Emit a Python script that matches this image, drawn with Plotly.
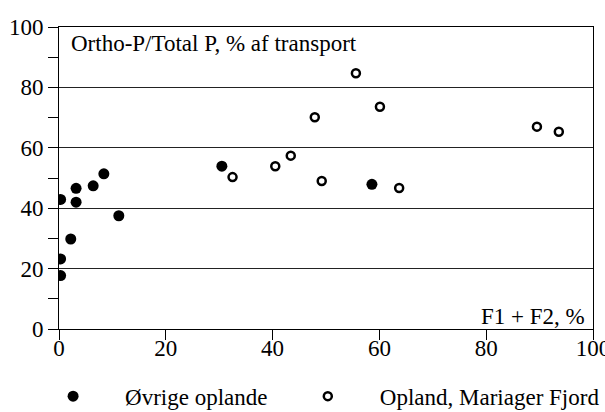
import plotly.graph_objects as go

# Øvrige oplande (filled)
x_ovrige = [0.3, 3.2, 6.4, 8.4, 3.2, 11.2, 2.2, 0.3, 0.3, 30.5, 58.6]
y_ovrige = [42.9, 46.6, 47.4, 51.4, 42.0, 37.5, 29.8, 23.2, 17.7, 53.9, 47.9]

# Opland, Mariager Fjord (open)
x_mariager = [32.5, 40.5, 43.4, 49.2, 63.7, 55.6, 60.1, 47.9, 89.5, 93.6]
y_mariager = [50.3, 53.9, 57.4, 49.0, 46.7, 84.7, 73.6, 70.1, 67.0, 65.3]

x_ticks = [0, 20, 40, 60, 80, 100]
y_ticks = [0, 20, 40, 60, 80, 100]

FONT = "Liberation Serif"
FS = 23

fig = go.Figure()
fig.add_trace(go.Scatter(
    x=x_ovrige, y=y_ovrige, mode="markers", name="Øvrige oplande", legend="legend",
    marker=dict(symbol="circle", size=11, color="black", line=dict(width=0)),
))
fig.add_trace(go.Scatter(
    x=x_mariager, y=y_mariager, mode="markers", name="Opland, Mariager Fjord", legend="legend2",
    marker=dict(symbol="circle-open", size=8, color="black", line=dict(width=2.5, color="black")),
))

leg_common = dict(
    orientation="h", xanchor="left", y=-0.2225, yanchor="middle",
    font=dict(family=FONT, size=FS, color="black"),
    itemwidth=94, bgcolor="rgba(0,0,0,0)",
)

fig.update_layout(
    width=605, height=412,
    margin=dict(l=59, r=12, t=27, b=83, autoexpand=False),
    paper_bgcolor="white", plot_bgcolor="white",
    font=dict(family=FONT, size=FS, color="black"),
    showlegend=True,
    legend=dict(x=-0.071, **leg_common),
    legend2=dict(x=0.406, **leg_common),
    xaxis=dict(
        range=[0, 100], tickvals=x_ticks, ticktext=[str(v) for v in x_ticks],
        showgrid=False, zeroline=False, automargin=False,
        showline=True, linecolor="black", linewidth=1, mirror=True,
        ticks="outside", ticklen=10, tickcolor="black", tickwidth=1,
        tickfont=dict(family=FONT, size=FS, color="black"),
        ticklabeloverflow="allow", ticklabelstandoff=-12,
        fixedrange=True,
    ),
    yaxis=dict(
        range=[0, 100], tickvals=y_ticks, ticktext=[str(v) for v in y_ticks],
        showgrid=True, gridcolor="#222", gridwidth=1, zeroline=False, automargin=False,
        showline=True, linecolor="black", linewidth=1, mirror=True,
        ticks="outside", ticklen=10, tickcolor="black", tickwidth=1,
        tickfont=dict(family=FONT, size=FS, color="black"),
        minor=dict(dtick=10, tick0=0, ticks="outside", ticklen=10, tickcolor="black", showgrid=False),
        fixedrange=True,
    ),
    annotations=[
        dict(text="Ortho-P/Total P, % af transport", xref="paper", yref="paper",
             x=0.0187, y=0.947, xanchor="left", yanchor="middle", showarrow=False,
             font=dict(family=FONT, size=FS, color="black")),
        dict(text="F1 + F2, %", xref="paper", yref="paper",
             x=0.989, y=0.04, xanchor="right", yanchor="middle", showarrow=False,
             font=dict(family=FONT, size=FS, color="black")),
    ],
)

fig.write_html("out.html")
